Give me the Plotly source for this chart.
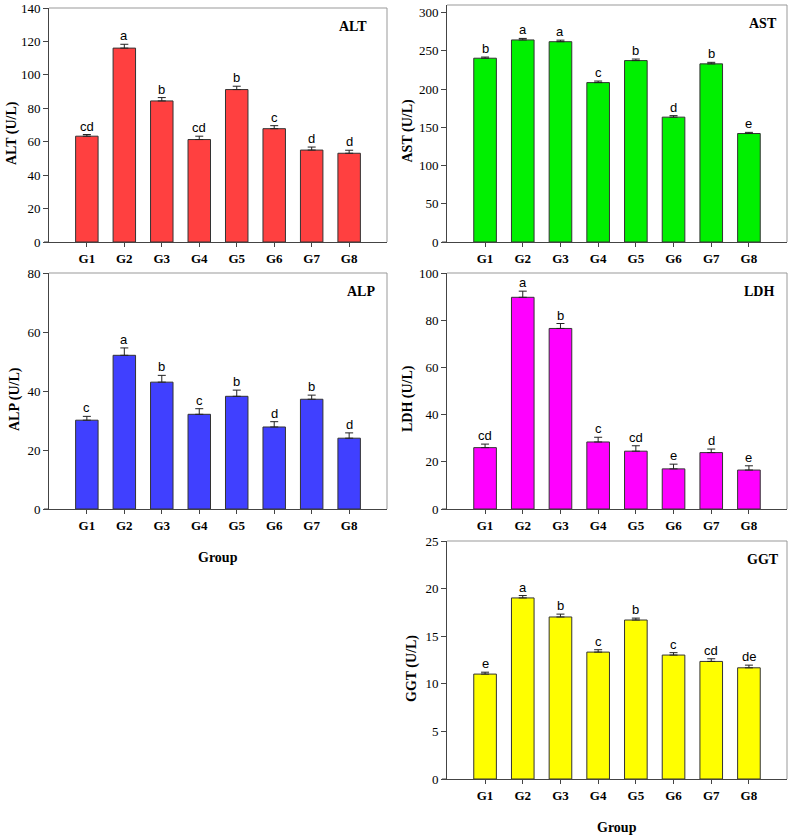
import plotly.graph_objects as go

groups = ["G1", "G2", "G3", "G4", "G5", "G6", "G7", "G8"]

alt_vals = [63.3, 116.0, 84.4, 61.3, 91.2, 67.8, 55.0, 53.1]
alt_err = [1.0, 2.3, 2.0, 2.0, 2.0, 1.8, 1.8, 1.8]
alt_letters = ["cd", "a", "b", "cd", "b", "c", "d", "d"]

ast_vals = [240.4, 264.3, 262.0, 208.5, 237.3, 163.3, 233.0, 141.9]
ast_err = [1.5, 2.0, 2.0, 2.0, 2.0, 2.0, 2.0, 1.5]
ast_letters = ["b", "a", "a", "c", "b", "d", "b", "e"]

alp_vals = [30.1, 52.1, 43.0, 32.1, 38.2, 27.8, 37.2, 24.0]
alp_err = [1.3, 2.5, 2.3, 1.9, 2.1, 1.8, 1.4, 1.8]
alp_letters = ["c", "a", "b", "c", "b", "d", "b", "d"]

ldh_vals = [26.0, 89.7, 76.5, 28.4, 24.5, 17.0, 23.9, 16.5]
ldh_err = [1.5, 2.6, 2.1, 2.0, 2.3, 2.0, 1.5, 1.8]
ldh_letters = ["cd", "a", "b", "c", "cd", "e", "d", "e"]

ggt_vals = [11.02, 19.02, 17.02, 13.33, 16.70, 13.02, 12.35, 11.68]
ggt_err = [0.2, 0.25, 0.3, 0.25, 0.2, 0.25, 0.28, 0.28]
ggt_letters = ["e", "a", "b", "c", "b", "c", "cd", "de"]

W, H = 789, 837

# name, values, errors, letters, colour, y range, dtick, panel box (px), label inset (px), ytitle x (px), show Group
panels = [
    ("ALT", alt_vals, alt_err, alt_letters, "#FF4040", [0, 140], 20, (49, 387, 8, 242), 18, 12, False),
    ("AST", ast_vals, ast_err, ast_letters, "#00F000", [0, 310], 50, (447, 787, 5, 242), 8, 407, False),
    ("ALP", alp_vals, alp_err, alp_letters, "#4040FF", [0, 80], 20, (49, 387, 273, 509), 10, 15, True),
    ("LDH", ldh_vals, ldh_err, ldh_letters, "#FF00FF", [0, 100], 20, (447, 787, 273, 509), 11, 408, False),
    ("GGT", ggt_vals, ggt_err, ggt_letters, "#FFFF00", [0, 25], 5, (447, 787, 541, 779), 6, 412, True),
]

SERIF = "Liberation Serif"
SANS = "Liberation Sans"

fig = go.Figure()
annotations = []
shapes = []
layout_axes = {}

for i, (name, vals, errs, letters, color, yr, dt, box, inset, ytx, show_group) in enumerate(panels):
    n = i + 1
    xa = "x" if n == 1 else f"x{n}"
    ya = "y" if n == 1 else f"y{n}"
    xkey = "xaxis" if n == 1 else f"xaxis{n}"
    ykey = "yaxis" if n == 1 else f"yaxis{n}"
    x0, x1, y0, y1 = box

    fig.add_trace(go.Bar(
        x=groups, y=vals, xaxis=xa, yaxis=ya, width=0.6,
        marker=dict(color=color, line=dict(color="#333333", width=1)),
        error_y=dict(type="data", symmetric=False, array=errs,
                     arrayminus=[0] * len(errs), color="#222222",
                     thickness=1, width=4),
        showlegend=False, hoverinfo="x+y",
    ))

    layout_axes[xkey] = dict(
        domain=[x0 / W, x1 / W], anchor=ya, type="category",
        range=[-1.01, 8.01], showgrid=False, zeroline=False,
        showline=True, linecolor="#444444", linewidth=1,
        ticks="outside", ticklen=4, tickcolor="#444444",
        tickfont=dict(family=SERIF, size=13, color="black", weight="bold"),
        fixedrange=True, automargin=False, ticklabeloverflow="allow",
    )
    layout_axes[ykey] = dict(
        domain=[1 - y1 / H, 1 - y0 / H], anchor=xa, range=yr,
        dtick=dt, tick0=0, showgrid=False, zeroline=False,
        showline=True, linecolor="#444444", linewidth=1,
        ticks="outside", ticklen=5, tickcolor="#444444",
        tickfont=dict(family=SERIF, size=13, color="black"),
        fixedrange=True, automargin=False, ticklabeloverflow="allow",
    )

    # grey top and right frame
    shapes.append(dict(type="line", xref=f"{xa} domain", yref=f"{ya} domain",
                       x0=0, x1=1, y0=1, y1=1, line=dict(color="#999999", width=1)))
    shapes.append(dict(type="line", xref=f"{xa} domain", yref=f"{ya} domain",
                       x0=1, x1=1, y0=0, y1=1, line=dict(color="#999999", width=1)))
    # small extension of the x axis line to the left
    shapes.append(dict(type="line", xref="paper", yref=f"{ya} domain",
                       x0=(x0 - 5) / W, x1=x0 / W, y0=0, y1=0,
                       line=dict(color="#444444", width=1)))

    # significance letters
    for g, v, e, lt in zip(groups, vals, errs, letters):
        annotations.append(dict(x=g, y=v + e, xref=xa, yref=ya, text=lt,
                                showarrow=False, xanchor="center", yanchor="bottom",
                                yshift=-1,
                                font=dict(family=SANS, size=13, color="black")))

    # panel label
    annotations.append(dict(x=(x1 - inset) / W, y=1 - (y0 + 18) / H, xref="paper", yref="paper",
                            text=f"<b>{name}</b>", showarrow=False,
                            xanchor="right", yanchor="middle",
                            font=dict(family=SERIF, size=14, color="black")))

    # y axis title
    annotations.append(dict(x=ytx / W, y=1 - ((y0 + y1) / 2 + 8) / H, xref="paper", yref="paper",
                            text=f"<b>{name} (U/L)</b>", showarrow=False, textangle=-90,
                            xanchor="center", yanchor="middle",
                            font=dict(family=SERIF, size=14, color="black")))

    if show_group:
        annotations.append(dict(x=((x0 + x1) / 2) / W, y=1 - (y1 + 48.5) / H,
                                xref="paper", yref="paper",
                                text="<b>Group</b>", showarrow=False,
                                xanchor="center", yanchor="middle",
                                font=dict(family=SERIF, size=14, color="black")))

fig.update_layout(
    width=W, height=H, autosize=False,
    margin=dict(l=0, r=0, t=0, b=0, autoexpand=False),
    paper_bgcolor="white", plot_bgcolor="white",
    bargap=0.4,
    annotations=annotations, shapes=shapes,
    **layout_axes,
)

fig.write_html("out.html", config={"displayModeBar": False},
               post_script="document.body.style.margin='0';document.body.style.overflow='hidden';")
